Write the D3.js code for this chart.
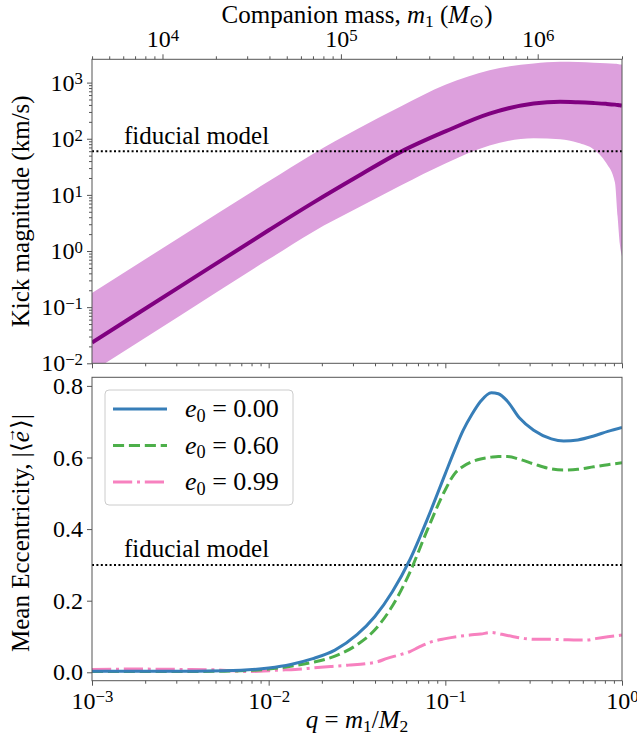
<!DOCTYPE html>
<html>
<head>
<meta charset="utf-8">
<script src="https://cdn.jsdelivr.net/npm/d3@7"></script>
<style>
  body { margin: 0; background: #fff; }
  svg, text { font-family: "Liberation Serif", "Times New Roman", serif; }
</style>
</head>
<body>
<div id="chart"></div>
<script>
// ---- data ----
// top panel: kick magnitude vs log10(q)
const kickLogQ   = [-3, -2.5, -2, -1.75, -1.5, -1.25, -1, -0.75, -0.5, -0.35, -0.25, -0.16, -0.09, -0.04, -0.025, -0.012, 0];
const kickMedian = [0.0234, 0.234, 2.34, 7.2, 21, 59, 135, 280, 425, 457, 447, 432, 418, 405, 400, 395, 389];
const kickUpper  = [0.178, 1.78, 17.4, 53.7, 148, 380, 912, 1660, 2190, 2340, 2320, 2260, 2210, 2160, 2140, 2110, 2090];
const kickLower  = [0.0071, 0.071, 0.71, 2.19, 5.75, 14.8, 36.3, 75.9, 102, 97.7, 85.1, 64.6, 37.2, 16.6, 4.17, 1.3, 0.8];
const kickFiducial = 60;

// bottom panel: mean eccentricity vs log10(q)
const eccLogQ = [-3, -2.5, -2.25, -2, -1.875, -1.75, -1.625, -1.5, -1.4, -1.3, -1.2, -1.1, -1, -0.95, -0.9, -0.85, -0.8, -0.74, -0.7, -0.65, -0.58, -0.5, -0.4, -0.33, -0.25, -0.16, -0.08, 0];
const ecc000  = [0.003, 0.003, 0.004, 0.012, 0.022, 0.038, 0.062, 0.105, 0.155, 0.225, 0.315, 0.43, 0.555, 0.617, 0.675, 0.72, 0.757, 0.781, 0.778, 0.758, 0.71, 0.676, 0.652, 0.646, 0.649, 0.66, 0.673, 0.684];
const ecc060  = [0.002, 0.002, 0.003, 0.009, 0.017, 0.028, 0.045, 0.077, 0.118, 0.185, 0.28, 0.40, 0.51, 0.553, 0.575, 0.588, 0.596, 0.601, 0.603, 0.603, 0.595, 0.582, 0.568, 0.565, 0.567, 0.574, 0.58, 0.585];
const pinkLogQ = [-3, -2.75, -2.5, -2.3, -2.2, -2.12, -2.05, -1.95, -1.85, -1.75, -1.65, -1.55, -1.45, -1.38, -1.33, -1.25, -1.2, -1.15, -1.08, -1, -0.93, -0.86, -0.8, -0.74, -0.68, -0.62, -0.55, -0.48, -0.4, -0.33, -0.25, -0.2, -0.15, -0.08, 0];
const ecc099  = [0.008, 0.009, 0.008, 0.007, 0.004, 0.002, 0.003, 0.006, 0.008, 0.012, 0.016, 0.02, 0.024, 0.03, 0.039, 0.05, 0.058, 0.07, 0.085, 0.094, 0.1, 0.104, 0.107, 0.111, 0.106, 0.1, 0.094, 0.092, 0.092, 0.091, 0.09, 0.09, 0.094, 0.099, 0.104];
const eccFiducial = 0.3;

const legendLabels = ["0.00", "0.60", "0.99"];
const eccTicks = [0, 0.2, 0.4, 0.6, 0.8];

// companion mass axis: m1 = q M / (1 + q), total mass 4e6
const totalMass = 4e6;
const massMajor = [1e4, 1e5, 1e6];
const massMinor = [4e3, 5e3, 6e3, 7e3, 8e3, 9e3, 2e4, 3e4, 4e4, 5e4, 6e4, 7e4, 8e4, 9e4,
                   2e5, 3e5, 4e5, 5e5, 6e5, 7e5, 8e5, 9e5, 2e6];

// ---- layout ----
const W = 637, H = 743;
const left = 92, right = 622;
const top1 = 59.3, bot1 = 363.3;
const top2 = 377.3, bot2 = 680.7;
const tickFont = 24, labelFont = 25, legendFont = 26;
const serif = '"Liberation Serif", "Times New Roman", serif';
const spine = "#555";

const svg = d3.select("#chart").append("svg")
    .attr("width", W).attr("height", H)
    .attr("font-family", serif);

const x = d3.scaleLog().domain([1e-3, 1]).range([left, right]);
const yKick = d3.scaleLog().domain([1e-2, 2600]).range([bot1, top1]);
const yEcc = d3.scaleLinear().domain([-0.0235, 0.824]).range([bot2, top2]);

const defs = svg.append("defs");
defs.append("clipPath").attr("id", "clip1").append("rect")
    .attr("x", left).attr("y", top1).attr("width", right - left).attr("height", bot1 - top1);
defs.append("clipPath").attr("id", "clip2").append("rect")
    .attr("x", left).attr("y", top2).attr("width", right - left).attr("height", bot2 - top2);

// helpers
function minorLog(lo, hi) {
    const out = [];
    for (let e = lo; e < hi; e++) for (let k = 2; k <= 9; k++) out.push(k * Math.pow(10, e));
    return out;
}
function powLabel(t, e) {
    t.text(null);
    t.append("tspan").text("10");
    t.append("tspan").attr("dy", "-0.38em").attr("font-size", "0.7em")
        .text(e < 0 ? "\u2212" + (-e) : String(e));
}
function styleAxis(g) {
    g.attr("font-family", serif).attr("font-size", tickFont);
    g.select(".domain").remove();
    g.selectAll(".tick line").attr("stroke", spine).attr("stroke-width", 1);
    g.selectAll(".tick text").attr("fill", "#000").attr("font-size", tickFont).attr("font-family", serif);
}
// rich text: segments of [text, "i" italic | "sub" | ""]
function rich(t, segs) {
    let shifted = false;
    segs.forEach(([s, kind]) => {
        const sp = t.append("tspan").text(s);
        if (kind === "i") sp.attr("font-style", "italic");
        if (kind === "sub") {
            sp.attr("font-size", "0.7em").attr("dy", "0.25em");
            shifted = true;
        } else if (shifted) {
            sp.attr("dy", "-0.175em");
            shifted = false;
        }
    });
}

// ================= TOP PANEL =================
const p1 = svg.append("g");

const area = d3.area()
    .x((d, i) => x(Math.pow(10, kickLogQ[i])))
    .y0((d, i) => yKick(kickLower[i]))
    .y1((d, i) => yKick(kickUpper[i]))
    .curve(d3.curveMonotoneX);

p1.append("path")
    .datum(kickLogQ)
    .attr("clip-path", "url(#clip1)")
    .attr("fill", "plum")
    .attr("d", area);

const kickLine = d3.line()
    .x((d, i) => x(Math.pow(10, kickLogQ[i])))
    .y(d => yKick(d))
    .curve(d3.curveMonotoneX);

p1.append("path")
    .datum(kickMedian)
    .attr("clip-path", "url(#clip1)")
    .attr("fill", "none")
    .attr("stroke", "purple")
    .attr("stroke-width", 4)
    .attr("d", kickLine);

p1.append("line")
    .attr("x1", left).attr("x2", right)
    .attr("y1", yKick(kickFiducial)).attr("y2", yKick(kickFiducial))
    .attr("stroke", "#000").attr("stroke-width", 2).attr("stroke-dasharray", "2,2.4");

p1.append("text")
    .attr("x", 124).attr("y", yKick(kickFiducial) - 7)
    .attr("font-size", labelFont)
    .text("fiducial model");

// left axis
const yMajor = [1e-2, 1e-1, 1e0, 1e1, 1e2, 1e3];
const gy1 = p1.append("g").attr("transform", `translate(${left},0)`)
    .call(d3.axisLeft(yKick).tickValues(yMajor).tickSize(5).tickPadding(4));
styleAxis(gy1);
gy1.selectAll(".tick text")
    .each(function(d) { powLabel(d3.select(this), Math.round(Math.log10(d))); });
const gy1m = p1.append("g").attr("transform", `translate(${left},0)`)
    .call(d3.axisLeft(yKick).tickValues(minorLog(-2, 3).filter(v => v <= 2600)).tickSize(3).tickFormat(""));
styleAxis(gy1m);

// bottom (shared, no labels)
const xMajor = [1e-3, 1e-2, 1e-1, 1e0];
const gx1 = p1.append("g").attr("transform", `translate(0,${bot1})`)
    .call(d3.axisBottom(x).tickValues(xMajor).tickSize(5).tickFormat(""));
styleAxis(gx1);
const gx1m = p1.append("g").attr("transform", `translate(0,${bot1})`)
    .call(d3.axisBottom(x).tickValues(minorLog(-3, 0)).tickSize(3).tickFormat(""));
styleAxis(gx1m);

// top axis: companion mass
const qOf = m => m / (totalMass - m);
const gt = p1.append("g").attr("transform", `translate(0,${top1})`)
    .call(d3.axisTop(x).tickValues(massMajor.map(qOf)).tickSize(5).tickPadding(7));
styleAxis(gt);
gt.selectAll(".tick text")
    .each(function(d, i) { powLabel(d3.select(this), Math.round(Math.log10(massMajor[i]))); });
const gtm = p1.append("g").attr("transform", `translate(0,${top1})`)
    .call(d3.axisTop(x).tickValues(massMinor.map(qOf)).tickSize(3).tickFormat(""));
styleAxis(gtm);

p1.append("rect")
    .attr("x", left).attr("y", top1).attr("width", right - left).attr("height", bot1 - top1)
    .attr("fill", "none").attr("stroke", spine).attr("stroke-width", 1);

// labels
const tl = p1.append("text")
    .attr("x", (left + right) / 2).attr("y", 23)
    .attr("text-anchor", "middle")
    .attr("font-size", labelFont);
rich(tl, [["Companion mass, ", ""], ["m", "i"], ["1", "sub"], [" (", ""], ["M", "i"], ["\u2299", "sub"], [")", ""]]);

p1.append("text")
    .attr("transform", `translate(29,${(top1 + bot1) / 2}) rotate(-90)`)
    .attr("text-anchor", "middle")
    .attr("font-size", labelFont)
    .text("Kick magnitude (km/s)");

// ================= BOTTOM PANEL =================
const p2 = svg.append("g");

p2.append("line")
    .attr("x1", left).attr("x2", right)
    .attr("y1", yEcc(eccFiducial)).attr("y2", yEcc(eccFiducial))
    .attr("stroke", "#000").attr("stroke-width", 2).attr("stroke-dasharray", "2,2.4");

p2.append("text")
    .attr("x", 124).attr("y", yEcc(eccFiducial) - 8)
    .attr("font-size", labelFont)
    .text("fiducial model");

const series = [
    { q: pinkLogQ, v: ecc099, color: "#f781bf", dash: "19.2,4.8,3,4.8" },
    { q: eccLogQ, v: ecc060, color: "#4daf4a", dash: "11.1,4.8" },
    { q: eccLogQ, v: ecc000, color: "#377eb8", dash: null }
];

series.forEach(s => {
    const line = d3.line()
        .x((d, i) => x(Math.pow(10, s.q[i])))
        .y(d => yEcc(d))
        .curve(d3.curveMonotoneX);
    p2.append("path")
        .datum(s.v)
        .attr("clip-path", "url(#clip2)")
        .attr("fill", "none")
        .attr("stroke", s.color)
        .attr("stroke-width", 3)
        .attr("stroke-dasharray", s.dash)
        .attr("d", line);
});

const gy2 = p2.append("g").attr("transform", `translate(${left},0)`)
    .call(d3.axisLeft(yEcc).tickValues(eccTicks).tickSize(5).tickPadding(4).tickFormat(d3.format(".1f")));
styleAxis(gy2);

const gx2 = p2.append("g").attr("transform", `translate(0,${bot2})`)
    .call(d3.axisBottom(x).tickValues(xMajor).tickSize(5).tickPadding(6));
styleAxis(gx2);
gx2.selectAll(".tick text")
    .each(function(d) { powLabel(d3.select(this), Math.round(Math.log10(d))); });
const gx2m = p2.append("g").attr("transform", `translate(0,${bot2})`)
    .call(d3.axisBottom(x).tickValues(minorLog(-3, 0)).tickSize(3).tickFormat(""));
styleAxis(gx2m);

p2.append("rect")
    .attr("x", left).attr("y", top2).attr("width", right - left).attr("height", bot2 - top2)
    .attr("fill", "none").attr("stroke", spine).attr("stroke-width", 1);

// legend
const leg = p2.append("g");
leg.append("rect")
    .attr("x", 105).attr("y", 390).attr("width", 188).attr("height", 115).attr("rx", 4)
    .attr("fill", "#fff").attr("fill-opacity", 0.8)
    .attr("stroke", "#ccc").attr("stroke-width", 1);
const legOrder = [series[2], series[1], series[0]];
legOrder.forEach((s, i) => {
    const yy = 409 + i * 36.5;
    leg.append("line")
        .attr("x1", 113).attr("x2", 167).attr("y1", yy).attr("y2", yy)
        .attr("stroke", s.color).attr("stroke-width", 3)
        .attr("stroke-dasharray", s.dash);
    const t = leg.append("text").attr("x", 185).attr("y", yy + 8)
        .attr("font-size", legendFont);
    rich(t, [["e", "i"], ["0", "sub"], [" = " + legendLabels[i], ""]]);
});

// axis labels
const xl = p2.append("text")
    .attr("x", (left + right) / 2).attr("y", 728)
    .attr("text-anchor", "middle")
    .attr("font-size", labelFont);
rich(xl, [["q", "i"], [" = ", ""], ["m", "i"], ["1", "sub"], ["/", ""], ["M", "i"], ["2", "sub"]]);

// |<e>| with a small arrow above the e
const yl = p2.append("text")
    .attr("transform", `translate(29,${(top2 + bot2) / 2 + 4}) rotate(-90)`)
    .attr("text-anchor", "middle")
    .attr("font-size", labelFont);
yl.append("tspan").text("Mean Eccentricity, |\u27E8");
yl.append("tspan").attr("font-style", "italic").text("e");
yl.append("tspan").attr("font-size", "0.6em").attr("dx", "-0.78em").attr("dy", "-0.95em").text("\u2192");
yl.append("tspan").attr("dy", "0.57em").attr("dx", "-0.05em").text("\u27E9|");
</script>
</body>
</html>
